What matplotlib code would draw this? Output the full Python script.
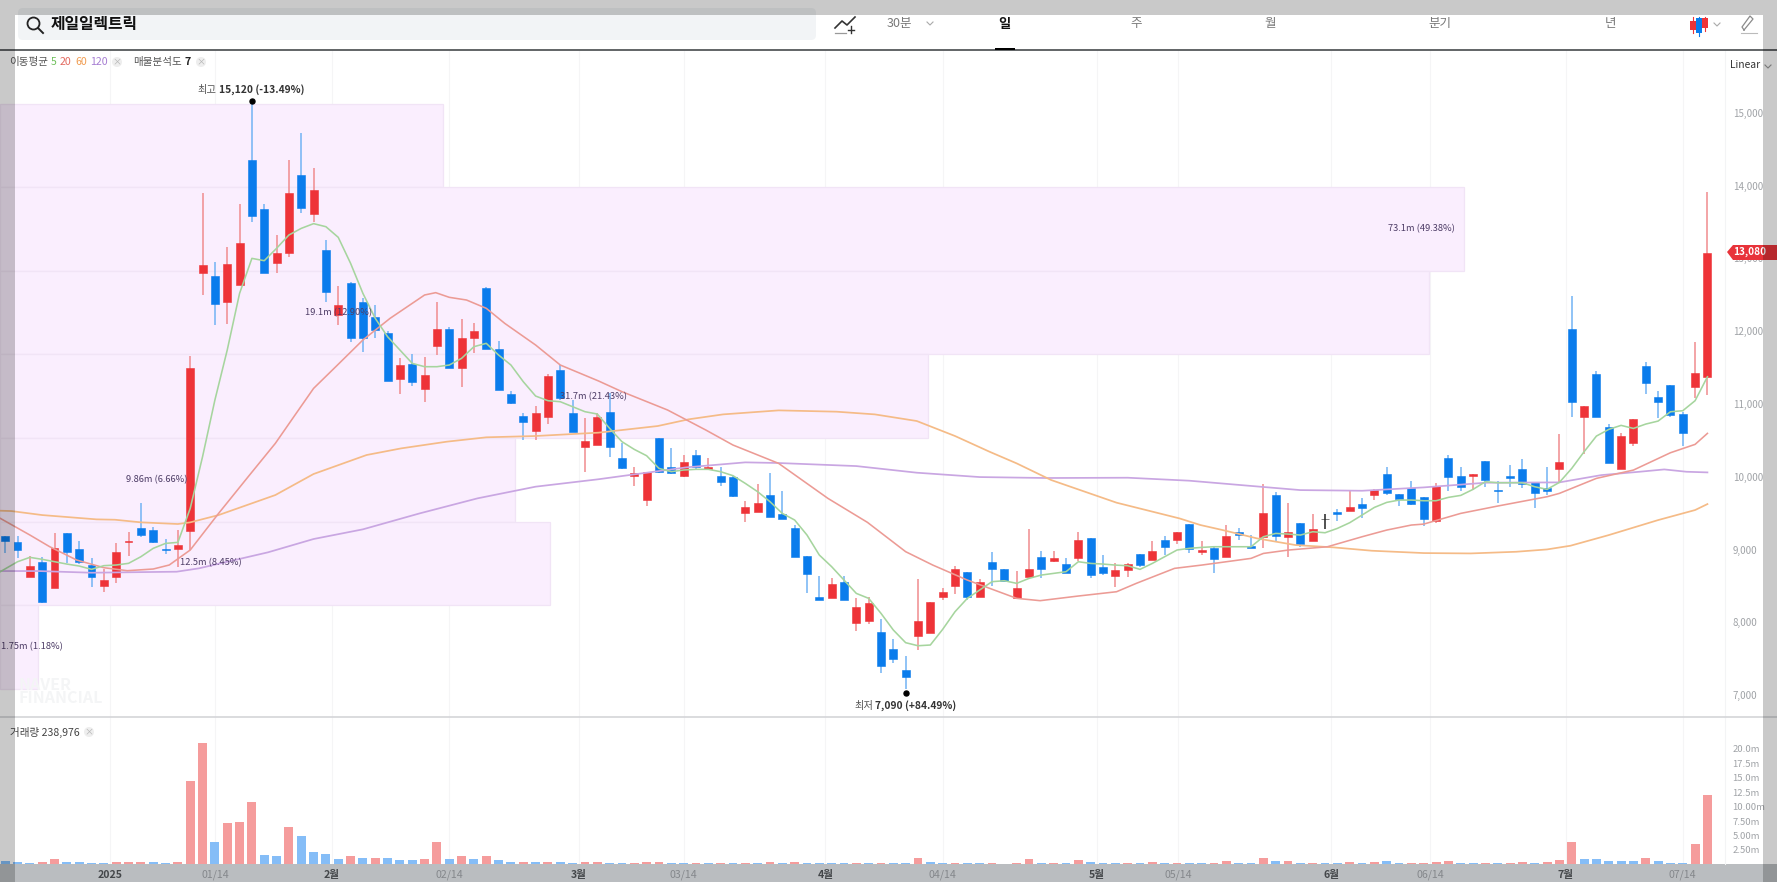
import matplotlib
matplotlib.use('Agg')
import matplotlib.pyplot as plt
from matplotlib.patches import Rectangle, FancyBboxPatch, Circle, Polygon

plt.rcParams['font.family'] = ['Noto Sans CJK KR', 'DejaVu Sans']

W, H = 1777, 882

opens = [9185, 9107, 8627, 8832, 8466, 9222, 9007, 8787, 8503, 8627,
         9098, 9290, 9267, 9007, 9011, 9249, 12793, 12761, 12400, 12633,
         14350, 13672, 12931, 13077, 14144, 13604, 13114, 12221, 12665, 12404,
         12189, 11978, 11337, 11543, 11200, 11800, 12029, 11497, 11900, 12587,
         11754, 11131, 10838, 10632, 10815, 11465, 10870, 10412, 10435, 10884,
         10261, 10014, 9679, 10536, 10128, 10009, 10298, 10110, 10014, 9999,
         9496, 9510, 9753, 9483, 9295, 8910, 8347, 8329, 8548, 7994,
         8017, 7862, 7628, 7344, 7811, 7857, 8342, 8503, 8686, 8351,
         8832, 8732, 8329, 8626, 8892, 8846, 8805, 8887, 9153, 8754,
         8640, 8718, 8938, 8855, 9125, 9130, 9350, 8969, 9015, 8891,
         9235, 9052, 9175, 9752, 9166, 9368, 9120, 9413, 9514, 9532,
         9624, 9748, 10036, 9757, 9848, 9716, 9395, 10261, 10013, 10009,
         10210, 9821, 10004, 10100, 9922, 9848, 10105, 12028, 10824, 11405,
         10682, 10105, 10457, 11515, 11094, 11254, 10856, 11236, 11373]
closes = [9121, 8993, 8773, 8278, 9016, 8961, 8832, 8617, 8581, 8970,
          9121, 9194, 9098, 8990, 9062, 11497, 12908, 12372, 12921, 13205,
          13585, 12793, 13068, 13892, 13686, 13938, 12541, 12363, 11900, 11900,
          12015, 11314, 11534, 11300, 11397, 12029, 11497, 11900, 12001, 11749,
          11186, 11012, 10751, 10870, 11383, 11076, 10618, 10495, 10824, 10412,
          10114, 10046, 10059, 10069, 10046, 10197, 10128, 10128, 9931, 9734,
          9579, 9643, 9450, 9423, 8901, 8667, 8306, 8521, 8306, 8214,
          8260, 7399, 7495, 7243, 8013, 8274, 8411, 8732, 8351, 8558,
          8727, 8571, 8475, 8732, 8727, 8878, 8681, 9130, 8649, 8681,
          8718, 8800, 8791, 8979, 9038, 9240, 9002, 8992, 8864, 9189,
          9198, 9015, 9505, 9189, 9235, 9075, 9281, 9413, 9487, 9587,
          9574, 9816, 9771, 9697, 9624, 9423, 9871, 9999, 9862, 10032,
          9954, 9803, 9981, 9894, 9771, 9807, 10196, 11030, 10970, 10815,
          10183, 10563, 10796, 11291, 11030, 10847, 10604, 11428, 13072]
highs = [9185, 9185, 8910, 8901, 9231, 9222, 9121, 8878, 8727, 9084,
         9245, 9643, 9304, 9148, 9267, 11658, 13892, 12944, 13150, 13746,
         15120, 13746, 13320, 14350, 14716, 14245, 13251, 12619, 12679, 12450,
         12358, 12006, 11626, 11681, 11649, 12404, 12061, 12161, 12106, 12610,
         11868, 11181, 10870, 10971, 11410, 11534, 11053, 10801, 10870, 11145,
         10458, 10137, 10069, 10536, 10389, 10298, 10366, 10252, 10137, 10009,
         9670, 9899, 10055, 9803, 9336, 8910, 8635, 8603, 8635, 8329,
         8342, 8049, 7765, 7536, 8599, 8274, 8475, 8773, 8695, 8590,
         8970, 8732, 8709, 9281, 8983, 8983, 8878, 9244, 9153, 8919,
         8809, 8809, 8938, 9116, 9185, 9240, 9350, 9120, 9029, 9336,
         9290, 9198, 9899, 9793, 9642, 9368, 9487, 9487, 9551, 9807,
         9702, 9830, 10128, 9757, 9945, 9716, 9917, 10297, 10128, 10032,
         10210, 9945, 10160, 10238, 9922, 10128, 10586, 12486, 10970, 11451,
         10719, 10595, 10796, 11570, 11181, 11254, 10892, 11845, 13915]
lows = [8947, 8878, 8627, 8270, 8466, 8819, 8800, 8480, 8420, 8544,
        8910, 9176, 9084, 8938, 8755, 8993, 12496, 12084, 12097, 12633,
        13503, 12793, 12793, 13013, 13627, 13503, 12404, 12084, 11855, 11717,
        11900, 11314, 11136, 11250, 11030, 11671, 11488, 11236, 11703, 11749,
        11186, 10998, 10504, 10504, 10724, 11053, 10609, 10060, 10435, 10266,
        10101, 9872, 9597, 10055, 10037, 9991, 10101, 10101, 9872, 9725,
        9373, 9510, 9450, 9423, 8892, 8406, 8306, 8329, 8306, 7880,
        7976, 7307, 7436, 7079, 7619, 7857, 8306, 8388, 8306, 8351,
        8503, 8571, 8329, 8626, 8603, 8823, 8681, 8846, 8603, 8649,
        8480, 8617, 8764, 8855, 8924, 9075, 8956, 8924, 8681, 8891,
        9130, 9015, 9015, 9107, 8891, 9038, 9120, 9281, 9395, 9532,
        9427, 9679, 9748, 9597, 9610, 9322, 9368, 9807, 9807, 9816,
        9862, 9642, 9853, 9839, 9565, 9748, 9917, 10824, 10311, 10815,
        10183, 10105, 10425, 11135, 10801, 10824, 10421, 11076, 11121]

volumes = [.55, .35, .3, .35, .85, .45, .35, .2, .2, .35,
           .35, .5, .35, .2, .5, 14.5, 21.1, 3.8, 7.1, 7.3,
           10.75, 1.6, 1.45, 6.5, 4.9, 2.2, 1.75, 1.0, 1.45, 1.15,
           1.15, 1.15, .7, .7, .85, 3.8, .85, 1.45, 1.0, 1.45,
           .7, .35, .4, .35, .5, .35, .2, .35, .35, .3,
           .3, .3, .45, .45, .3, .3, .3, .3, .3, .3,
           .3, .3, .45, .3, .45, .3, .3, .3, .3, .3,
           .3, .3, .3, .3, 1.15, .5, .3, .3, .3, .3,
           .3, .05, .3, .9, .3, .3, .3, .7, .5, .3,
           .3, .3, .3, .35, .3, .3, .3, .3, .3, .55,
           .3, .3, 1.15, .55, .65, .3, .3, .3, .3, .5,
           .3, .5, .55, .3, .3, .3, .5, .6, .3, .3,
           .3, .3, .3, .5, .3, .5, .8, 3.9, .87, .9,
           .55, .55, .55, 1.1, .55, .3, .3, 3.47, 12.07]
vol_colors = list('bbbrrbbbbrrrbbrrrbrrrbbrbbbbrbrbbbrrbrbrbbrbrbbrr'
                  'bbrrrbbrbrbrbrbrbbbbrbrbbrbbrbbrrrrbrbrbbbrb'
                  'rbrbbrrbbrbrbrbbrbrbbrrrrbbrbrrbrrrbbbbbrbbbrr')

ma5_idx = [-0.4] + list(range(1, 139))
ma5 = [8695,
       8832, 8892, 8865, 8832, 8800, 8773, 8727, 8778, 8787, 8810,
       8901, 9016, 9084, 9098, 9565, 10275, 11053, 11740, 12518, 12999,
       12967, 13137, 13320, 13411, 13476, 13434, 13288, 12931, 12518, 12175,
       11923, 11740, 11557, 11511, 11511, 11534, 11626, 11786, 11832, 11671,
       11534, 11305, 11108, 11044, 11030, 10962, 10893, 10861, 10664, 10481,
       10375, 10288, 10114, 10069, 10092, 10101, 10101, 10069, 10014, 9908,
       9794, 9657, 9496, 9405, 9199, 8924, 8764, 8580, 8397, 8329,
       8123, 7894, 7720, 7678, 7688, 7903, 8145, 8329, 8443, 8558,
       8571, 8535, 8603, 8649, 8672, 8695, 8832, 8809, 8800, 8786,
       8777, 8727, 8809, 8901, 8993, 9016, 9029, 9038, 9038, 9038,
       9038, 9175, 9221, 9212, 9198, 9244, 9230, 9290, 9368, 9473,
       9578, 9647, 9679, 9679, 9670, 9670, 9716, 9743, 9826, 9931,
       9917, 9917, 9917, 9862, 9826, 9922, 10114, 10343, 10558, 10650,
       10705, 10663, 10723, 10764, 10892, 10906, 11044, 11373]

ma20_idx = [-0.4, 2, 3.6, 5.8, 8, 9.9, 12, 13.3, 15, 17.3, 19.7, 21.9, 23.4, 25, 26.8, 29,
            31.2, 33.4, 34, 34.9, 36, 37.4, 39, 40.5, 43, 45, 48.1, 50, 53.7, 56.8, 59,
            62.7, 66.7, 69.9, 73, 75.2, 78, 82, 83.9, 87, 90.1, 91.7, 94.8, 97, 101, 102,
            104, 107.2, 110, 112, 114, 115, 118, 121, 125, 126, 129, 132, 135, 137, 138]
ma20 = [9428, 9199, 9039, 8855, 8750, 8709, 8732, 8787, 8993, 9496, 10000, 10458, 10824, 11213, 11511, 11878,
        12175, 12427, 12496, 12528, 12464, 12427, 12313, 12106, 11809, 11534, 11315, 11168, 10916, 10641, 10435,
        10183, 9702, 9373, 8970, 8786, 8580, 8329, 8297, 8361, 8420, 8535, 8741, 8786, 8878, 8946,
        8992, 9038, 9175, 9267, 9336, 9349, 9496, 9597, 9725, 9771, 9977, 10091, 10329, 10444, 10595]

ma60_idx = [-0.4, 0.5, 3, 7.4, 8.9, 11, 14, 15, 17.3, 21.9, 25, 29.3, 32.1, 35.8, 39, 43, 48.1, 50, 52.9,
            55.4, 58.2, 62.7, 67.4, 70.5, 73.9, 77, 79.8, 82, 84.8, 90.1, 95.2, 96.9, 98.7, 101.5,
            104.6, 107.7, 110.8, 115, 118.8, 122.5, 125, 126.9, 130, 134, 137, 138]
ma60 = [9533, 9528, 9473, 9414, 9409, 9373, 9350, 9373, 9473, 9748, 10037, 10298, 10389, 10481, 10541, 10559, 10605, 10641, 10696,
        10788, 10856, 10911, 10893, 10856, 10765, 10559, 10343, 10183, 9954, 9643, 9427, 9336, 9267, 9152,
        9061, 9029, 8983, 8951, 8946, 8969, 9001, 9052, 9198, 9404, 9542, 9624]

ma120_idx = [-0.4, 2.7, 7, 13.9, 15.7, 21.3, 25, 29, 33.6, 38.3, 43, 48.1, 51, 55.2, 60, 62.7, 69,
             73.9, 79, 84.4, 91, 96, 100.8, 105, 110, 115, 120, 126, 129.4, 132.5, 134.5, 136.3, 138]
ma120 = [8704, 8704, 8681, 8695, 8741, 8961, 9144, 9277, 9496, 9703, 9863, 9965, 10032, 10128, 10197, 10188, 10146,
         10055, 9995, 9982, 9986, 9945, 9876, 9816, 9807, 9853, 9917, 9922, 10022, 10068, 10100, 10068, 10059]

band_edges = [15120, 13973, 12826, 11679, 10531, 9384, 8237, 7090]
band_ends = [35.5, 118.3, 115.4, 74.8, 41.3, 44.2, 2.66]

price_ticks = [7000, 8000, 9000, 10000, 11000, 12000, 13000, 14000, 15000]
vol_ticks = [2.5, 5, 7.5, 10, 12.5, 15, 17.5, 20]
vol_tick_labels = ['2.50m', '5.00m', '7.50m', '10.00m', '12.5m', '15.0m', '17.5m', '20.0m']
date_pos = [8.5, 17, 26.5, 36, 46.5, 55, 66.5, 76, 88.5, 95.1, 107.5, 115.5, 126.5, 136]
date_labels = ['2025', '01/14', '2월', '02/14', '3월', '03/14', '4월', '04/14',
               '5월', '05/14', '6월', '06/14', '7월', '07/14']

RED, BLUE = '#ee3338', '#0a7cec'
RED_W, BLUE_W = '#f08b8e', '#71b3f4'
VOL_C = {'r': '#f59c9c', 'b': '#85bdf7'}

X0, STEP = 5.2, 12.335
AX_R = 1725.0


def axes_box(y_top, y_bot):
    return [0, 1 - y_bot / H, AX_R / W, (y_bot - y_top) / H]


fig = plt.figure(figsize=(W / 100, H / 100), dpi=100, facecolor='white')
ax = fig.add_axes(axes_box(50, 717))
vax = fig.add_axes(axes_box(717, 864.4), sharex=ax)
ax.set_xlim(-X0 / STEP, (AX_R - X0) / STEP)
ax.set_ylim(10000 + (476.7 - 717) / 0.0728, 10000 + (476.7 - 50) / 0.0728)
vax.set_ylim(0, (864.4 - 717) / 5.77)

for a in (ax, vax):
    for s in a.spines.values():
        s.set_visible(False)
    a.grid(axis='x', color='#f5f5f6', lw=0.8)
    a.set_axisbelow(True)
    a.yaxis.tick_right()
    a.tick_params(axis='both', length=0)
    a.patch.set_alpha(0)
    a.spines['right'].set_visible(True)
    a.spines['right'].set_color('#f3f4f5')
    a.spines['right'].set_linewidth(0.8)

# volume profile bands
xleft = ax.get_xlim()[0]
for k, end in enumerate(band_ends):
    ax.barh((band_edges[k] + band_edges[k + 1]) / 2, end - xleft, left=xleft,
            height=band_edges[k] - band_edges[k + 1], color='#faeefe',
            edgecolor='#f1e4f6', lw=0.9, zorder=1)

# candles
idx = list(range(len(opens)))
for i in idx:
    o, c = opens[i], closes[i]
    if o == c:
        col, wick = '#222222', '#222222'
    elif c > o:
        col, wick = RED, RED_W
    else:
        col, wick = BLUE, BLUE_W
    ax.vlines(i, lows[i], highs[i], color=wick, lw=1.1, zorder=2)
    ax.bar(i, abs(c - o), bottom=min(o, c), width=0.64, color=col, edgecolor=col, lw=0.4, zorder=3)

ax.plot(ma120_idx, ma120, color='#c9a6e2', lw=1.25, zorder=4)
ax.plot(ma60_idx, ma60, color='#f5bb87', lw=1.25, zorder=4)
ax.plot(ma20_idx, ma20, color='#ec9b95', lw=1.15, zorder=4)
ax.plot(ma5_idx, ma5, color='#a6d59e', lw=1.15, zorder=4)

# high / low markers
ax.plot([20], [15165], 'o', color='black', ms=3.6, zorder=5)
ax.plot([73], [7030], 'o', color='black', ms=3.6, zorder=5)

ax.set_yticks(price_ticks)
ax.set_yticklabels([f'{v:,}' for v in price_ticks], color='#a0a3a7', fontsize=7)
ax.tick_params(axis='y', pad=5.5)
plt.setp(ax.get_xticklabels(), visible=False)

vax.bar(idx, volumes, width=0.72, color=[VOL_C[c] for c in vol_colors], zorder=3)
vax.set_yticks(vol_ticks)
vax.set_yticklabels(vol_tick_labels, color='#a0a3a7', fontsize=6.8)
vax.tick_params(axis='y', pad=5.5)
vax.set_xticks(date_pos)
vax.set_xticklabels(date_labels, fontsize=7.6, color='#85888c')
vax.tick_params(axis='x', pad=4)
for lab in vax.get_xticklabels():
    if lab.get_text() == '2025' or lab.get_text().endswith('월'):
        lab.set_fontweight('bold')
        lab.set_color('#44474a')

# screen furniture on a pixel layer
top = fig.add_axes([0, 0, 1, 1], zorder=10)
top.set_xlim(0, W)
top.set_ylim(H, 0)
top.axis('off')


def label(x, y, s, size=7.6, color='#555555', weight='normal', ha='left', z=6):
    top.text(x, y, s, fontsize=size, color=color, fontweight=weight, ha=ha, va='center', zorder=z)


top.add_patch(FancyBboxPatch((18, 8), 798, 32, boxstyle='round,pad=0,rounding_size=5',
                             fc='#f2f4f6', ec='none', mutation_aspect=1, zorder=1))
top.add_patch(Circle((33.5, 23.5), 6, fc='none', ec='#222222', lw=1.3, zorder=2))
top.plot([38, 43], [28, 33], color='#222222', lw=1.4, zorder=2)
label(51, 24, '제일일렉트릭', size=11.4, color='#111111', weight='bold')
top.plot([0, W], [50, 50], color='#55585b', lw=1.3, zorder=2)
top.plot([0, W], [717, 717], color='#d4d5d8', lw=1.2, zorder=2)

# toolbar
top.plot([835, 842, 847, 855], [28, 21, 25, 17], color='#333333', lw=1.2, zorder=2)
top.plot([835, 846], [33, 33], color='#999999', lw=0.9, zorder=2)
top.plot([851, 851], [26, 33], color='#333333', lw=1, zorder=2)
top.plot([848, 854], [30, 30], color='#333333', lw=1, zorder=2)
label(887, 24, '30분', size=9, color='#777777')
top.plot([927, 930, 933], [22, 25, 22], color='#aaaaaa', lw=0.8, zorder=2)
label(1004, 24, '일', size=9.5, color='#111111', weight='bold', ha='center')
label(1136, 24, '주', size=9, color='#777777', ha='center')
label(1270, 24, '월', size=9, color='#777777', ha='center')
label(1440, 24, '분기', size=9, color='#777777', ha='center')
label(1610, 24, '년', size=9, color='#777777', ha='center')
top.add_patch(Rectangle((995, 47.5), 20, 2.6, fc='black', ec='none', zorder=3))
top.plot([1692.5, 1692.5], [17, 33], color='#ee3338', lw=0.8, zorder=2)
top.add_patch(Rectangle((1690, 21), 5.5, 9, fc='#ee3338', ec='none', zorder=3))
top.plot([1698.5, 1698.5], [17, 36], color='#0a7cec', lw=0.8, zorder=2)
top.add_patch(Rectangle((1696, 18), 5.5, 15, fc='#0a7cec', ec='none', zorder=3))
top.plot([1704.5, 1704.5], [17, 31], color='#ee3338', lw=0.8, zorder=2)
top.add_patch(Rectangle((1702, 18), 5.5, 10, fc='#ee3338', ec='none', zorder=3))
top.plot([1714, 1717, 1720], [23, 26, 23], color='#aaaaaa', lw=0.8, zorder=2)
top.plot([1744, 1753, 1750, 1742, 1744], [30, 19, 16, 27, 30], color='#8a8a8a', lw=0.9, zorder=2)
top.plot([1741, 1757], [33, 33], color='#bbbbbb', lw=0.8, zorder=2)
label(1745, 65, 'Linear', size=7.4, color='#333333', ha='center')
top.plot([1765, 1768, 1771], [65, 68, 65], color='#999999', lw=0.8, zorder=2)

# legend row
label(9.5, 62, '이동평균')
label(51, 62, '5', color='#6fc05c')
label(60, 62, '20', color='#e3695f')
label(75, 62, '60', color='#f09b4f')
label(90, 62, '120', color='#a67dd2')
label(133, 62, '매물분석도')
label(184.5, 62, '7', color='#222222', weight='bold')
label(9.5, 732, '거래량 238,976', color='#444444')
for cx, cy in [(117, 62), (201, 62), (89, 732)]:
    top.add_patch(Circle((cx, cy), 5, fc='#eeeeee', ec='none', zorder=2))
    label(cx, cy - 0.5, '×', size=6.5, color='#b5b5b5', ha='center')

# high / low text
label(197.5, 90, '최고', size=7.4, color='#555555')
label(219, 90, '15,120 (-13.49%)', size=7.4, color='#333333', weight='bold')
label(854, 706, '최저', size=7.4, color='#555555')
label(875, 706, '7,090 (+84.49%)', size=7.4, color='#333333', weight='bold')

# band labels
BAND_TEXT = '#4d3c66'
label(1455, 229, '73.1m (49.38%)', size=6.7, color=BAND_TEXT, ha='right')
label(372, 313, '19.1m (12.90%)', size=6.7, color=BAND_TEXT, ha='right')
label(627, 397, '31.7m (21.43%)', size=6.7, color=BAND_TEXT, ha='right')
label(187.5, 480, '9.86m (6.66%)', size=6.7, color=BAND_TEXT, ha='right')
label(242, 563, '12.5m (8.45%)', size=6.7, color=BAND_TEXT, ha='right')
label(63, 647, '1.75m (1.18%)', size=6.7, color=BAND_TEXT, ha='right')

# watermark
label(18, 685, 'NAVER', size=11.5, color='#f4f5f6', weight='bold', z=0)
label(18, 698, 'FINANCIAL', size=11.5, color='#f4f5f6', weight='bold', z=0)

# current price tag
top.add_patch(Polygon([(1727, 252), (1733, 245), (W, 245), (W, 260), (1733, 260)],
                      fc='#e8333a', ec='none', zorder=5))
label(1733, 252, '13,080', size=7.2, color='white', weight='bold', z=6)

# browser overlay and date strip
for rect in [(0, 0, W, 15), (0, 15, 15, H - 15), (1763, 15, W - 1763, H - 15)]:
    top.add_patch(Rectangle(rect[:2], rect[2], rect[3], fc='black', alpha=0.21, ec='none', zorder=7))
strip = Rectangle((0, 864.4), W, H - 864.4, fc='#babdc0', ec='none', zorder=-5)
fig.add_artist(strip)
strip.set_transform(top.transData)

fig.savefig('out.png', dpi=100)
